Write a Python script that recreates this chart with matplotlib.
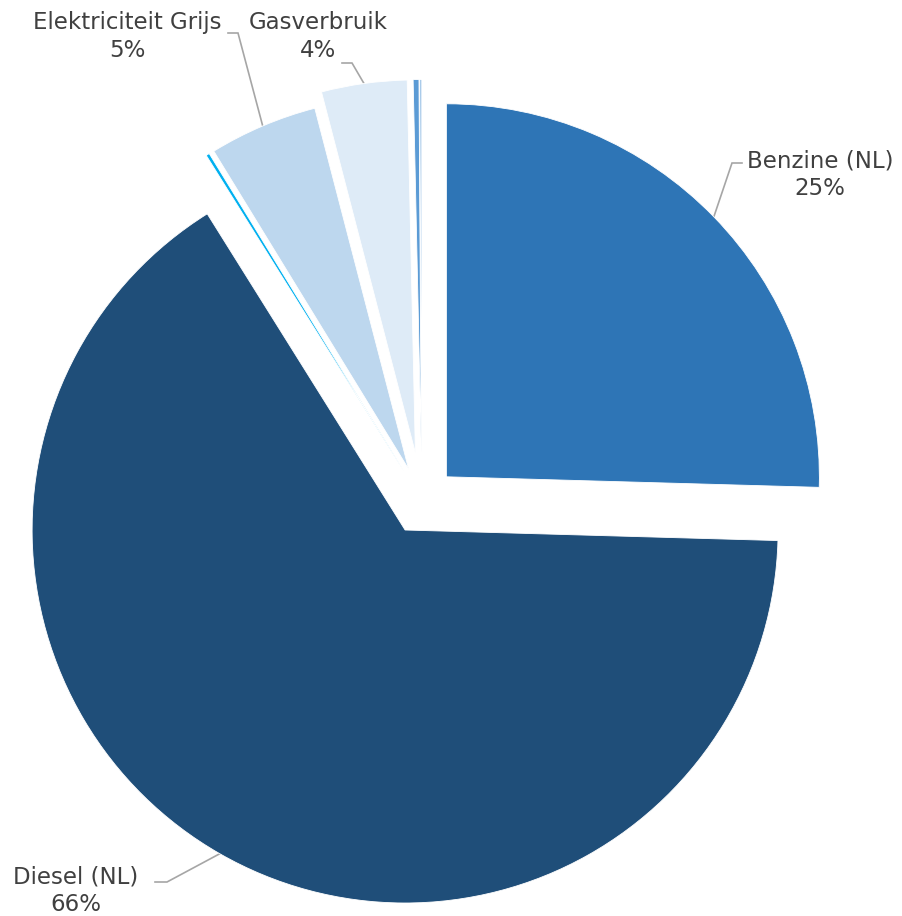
import matplotlib
matplotlib.use("Agg")
import matplotlib.pyplot as plt
import numpy as np

# ---- data ----
categories = ['Benzine (NL)', 'Diesel (NL)', 'Elektriciteit Groen',
              'Elektriciteit Grijs', 'Gasverbruik', 'Overig 1', 'Overig 2']
values = [25.45, 65.65, 0.15, 4.7, 3.7, 0.25, 0.1]
show_label = [True, True, False, True, True, False, False]
colors = ['#2E75B6', '#1F4E79', '#00B0F0', '#BDD7EE', '#DEEBF7', '#5B9BD5', '#A9CBEA']

# ---- layout (pixel coordinates, y measured from top) ----
W, H = 903, 916
center_img = (422, 500.5)
radius = 373
explode = [34, 34, 34, 34, 48, 48, 48]
# label layout: (x centre, baseline line 1, baseline line 2, elbow point, line end)
label_layout = {
    'Benzine (NL)': (820, 167, 195, (732, 163), (742, 163)),
    'Diesel (NL)': (76, 883, 911, (167, 882), (155, 882)),
    'Elektriciteit Grijs': (127.5, 29, 57, (238, 33), (228, 33)),
    'Gasverbruik': (318, 29, 57, (352, 63), (342, 63)),
}

def yc(y):
    return H - y

fig = plt.figure(figsize=(W / 100, H / 100), dpi=100)
ax = fig.add_axes([0, 0, 1, 1])

wedges, _ = ax.pie(values, colors=colors, startangle=90, counterclock=False,
                   radius=radius, center=(center_img[0], yc(center_img[1])),
                   explode=explode, frame=True,
                   wedgeprops=dict(edgecolor='white', linewidth=0.6, zorder=2))

total = sum(values)
text_color = '#404040'
line_color = '#A6A6A6'
for w, cat, val, show in zip(wedges, categories, values, show_label):
    if not show:
        continue
    mid = np.deg2rad((w.theta1 + w.theta2) / 2)
    cx, cy = w.center
    px = cx + w.r * np.cos(mid)
    py = cy + w.r * np.sin(mid)
    tx, b1, b2, elbow, end = label_layout[cat]
    ax.plot([px, elbow[0], end[0]], [py, yc(elbow[1]), yc(end[1])],
            color=line_color, lw=1.2, zorder=1, solid_joinstyle='miter')
    pct = '%.0f%%' % (val / total * 100)
    ax.text(tx, yc(b1), cat, ha='center', va='baseline', fontsize=16.5,
            color=text_color, family='DejaVu Sans')
    ax.text(tx, yc(b2), pct, ha='center', va='baseline', fontsize=16.5,
            color=text_color, family='DejaVu Sans')

ax.set_xlim(0, W)
ax.set_ylim(0, H)
ax.set_aspect('equal')
ax.axis('off')

fig.savefig('out.png', dpi=100, facecolor='white')
